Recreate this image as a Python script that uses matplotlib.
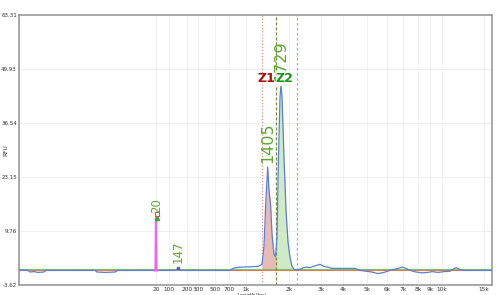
import matplotlib
matplotlib.use("Agg")
import matplotlib.pyplot as plt
import numpy as np

# x axis: migration position units; tick labels are fragment sizes
tick_pos = [156, 169, 187, 198, 215, 229, 246, 289, 321, 343, 367, 387, 403, 418, 430, 442, 484]
tick_lbl = ["20", "100", "200", "300", "500", "700", "1k", "2k", "3k", "4k", "5k", "6k", "7k", "8k", "9k", "10k", "15k"]
y_ticks = [-3.62, 9.76, 23.15, 36.54, 49.93, 63.31]

# blue sample trace (position, RFU)
trace_pos = [19, 28, 30, 34, 38, 44, 46, 95, 97, 105, 115, 118, 150, 175, 177, 178, 179, 181,
             230, 234, 240, 250, 258, 262, 264, 266, 267.7, 269, 270.5, 272, 274, 275.5,
             277, 278.5, 280, 281, 282, 284, 286, 288, 290, 292, 294, 297, 300, 305, 310,
             316, 320, 324, 328, 332, 355, 360, 372, 378, 384, 390, 398, 402, 406, 410,
             416, 422, 428, 432, 438, 444, 450, 454, 456, 459, 462, 492]
trace_rfu = [0.1, 0.0, -0.4, -0.3, -0.5, -0.4, 0.0, 0.0, -0.4, -0.5, -0.4, 0.0, 0.0, 0.0, 0.2, 0.7, 0.2, 0.0,
             0.0, 0.6, 0.8, 0.9, 1.0, 1.5, 6.0, 18.0, 25.6, 20.0, 16.5, 9.0, 4.0, 3.4,
             8.0, 28.0, 43.0, 46.0, 43.0, 28.0, 15.0, 7.0, 3.3, 1.0, 0.3, 0.0, 0.3, 0.8, 0.7,
             1.2, 1.5, 1.0, 0.8, 0.5, 0.5, 0.0, -0.4, -0.8, -0.5, 0.0, 0.5, 0.8, 0.5, 0.0,
             -0.4, -0.6, -0.5, -0.3, -0.5, -0.3, -0.2, 0.4, 0.7, 0.3, 0.0, 0.0]

# marker spike (lower marker, 20 bp)
marker_pos = [154.5, 155.5, 156, 156.5, 157.5]
marker_rfu = [0.0, 0.0, 13.0, 0.0, 0.0]

# smear regions
z1_start, z1_end = 262, 275.5
z2_start, z2_end = 275.5, 297

peak_labels = [("20", 156.5, 14.3, 8.5), ("147", 178, 1.8, 8.5),
               ("1405", 267.7, 26.5, 11.5), ("1729", 281, 47.0, 11.5)]

fig = plt.figure(figsize=(4.96, 2.95), dpi=100)
ax = fig.add_axes([19/496, 10/295, (492-19)/496, (285-15)/295])
ax.set_xlim(19, 492)
ax.set_ylim(-3.62, 63.31)

# grid
for p in tick_pos:
    ax.axvline(p, color="#efefef", lw=0.6, zorder=0)
for y in y_ticks[1:-1]:
    ax.axhline(y, color="#ececec", lw=0.6, zorder=0)

tp = np.array(trace_pos)
tr = np.array(trace_rfu)
xx = np.linspace(z1_start, z1_end, 60)
ax.fill_between(xx, 0, np.interp(xx, tp, tr), color="#e6b3ad", alpha=0.9, lw=0, zorder=1)
xx2 = np.linspace(z2_start, z2_end, 80)
ax.fill_between(xx2, 0, np.interp(xx2, tp, tr), color="#c9e8c0", alpha=0.9, lw=0, zorder=1)

# baselines
ax.axhline(0.0, color="#e07a4a", lw=0.8, zorder=2)
ax.axhline(0.35, color="#7cc46a", lw=0.8, zorder=2)

ax.plot(trace_pos, trace_rfu, color="#5b7fd6", lw=0.9, zorder=3)
ax.plot(marker_pos, marker_rfu, color="#ee66ee", lw=1.6, zorder=4)
ax.plot([156.5], [13.0], marker="^", color="#33aa33", ms=3, zorder=5)
ax.plot([156.5], [14.0], marker="s", mfc="none", mec="#e05050", ms=2.5, mew=0.8, zorder=5)
ax.plot([178], [0.6], marker="s", color="#4466cc", ms=2, zorder=5)

# region lines
ax.axvline(z1_start, color="#e89090", lw=0.9, ls=(0, (1, 1.5)), zorder=2)
ax.axvline(z1_end, color="#6f8f3a", lw=0.9, ls=(0, (2.5, 1.5)), zorder=2)
ax.axvline(z2_end, color="#77d077", lw=0.9, ls=(0, (2, 2)), zorder=2)

for txt, x, y, fs in peak_labels:
    ax.text(x, y, txt, rotation=90, ha="center", va="bottom", color="#5aaa2a", fontsize=fs, zorder=6)

ax.text(z1_end - 0.5, 47.5, "Z1", ha="right", va="center", color="#a80f0f", fontsize=9, fontweight="bold", zorder=7)
ax.text(z1_end + 0.5, 47.5, "Z2", ha="left", va="center", color="#119911", fontsize=9, fontweight="bold", zorder=7,
        bbox=dict(facecolor="white", edgecolor="none", pad=0.3))

ax.set_xticks(tick_pos)
ax.set_xticklabels(tick_lbl, fontsize=4.2, color="#333333")
ax.set_yticks(y_ticks)
ax.set_yticklabels([f"{v:.2f}" for v in y_ticks], fontsize=4, color="#333333")
ax.tick_params(length=0, pad=1.5)
ax.set_ylabel("RFU", fontsize=4.2, color="#333333")
ax.yaxis.set_label_coords(-(19-8)/(492-19), 0.5)
ax.set_xlabel("Length(bp)", fontsize=3.8, color="#333333")
ax.xaxis.set_label_coords((252-19)/(492-19), -0.03)
for s in ax.spines.values():
    s.set_color("#999999")
    s.set_linewidth(1.2)

fig.savefig("out.png", dpi=100)
